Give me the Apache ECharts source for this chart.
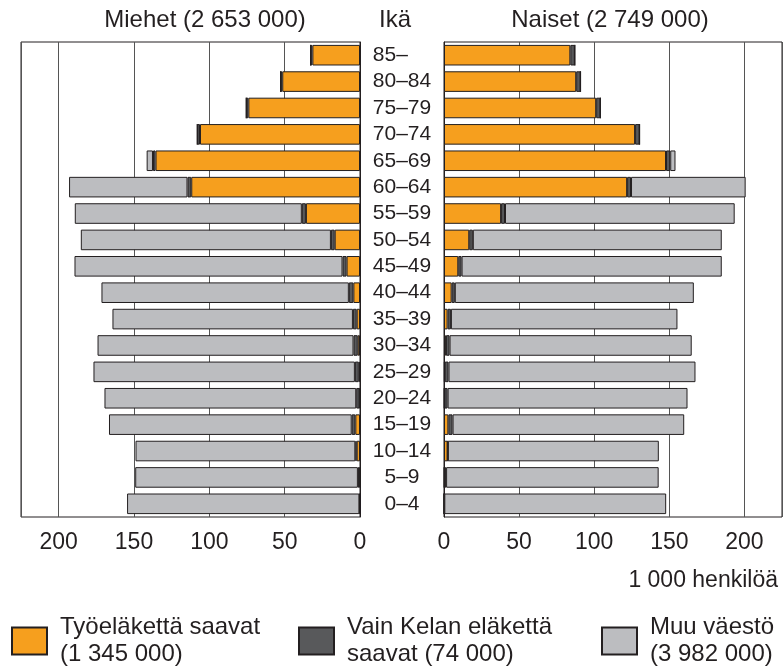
<!DOCTYPE html>
<html>
<head>
<meta charset="utf-8">
<script src="https://cdn.jsdelivr.net/npm/echarts@6/dist/echarts.min.js"></script>
<style>
  html, body { margin: 0; padding: 0; background: #fff; }
  #chart { width: 784px; height: 671px; }
</style>
</head>
<body>
<div id="chart"></div>
<script>
// ikäryhmät ylhäältä alas
const ages = ['85–', '80–84', '75–79', '70–74', '65–69', '60–64', '55–59', '50–54', '45–49',
  '40–44', '35–39', '30–34', '25–29', '20–24', '15–19', '10–14', '5–9', '0–4'];

// 1 000 henkilöä
const menPension = [31.6, 51.6, 74.1, 106.2, 135.7, 112.0, 35.9, 16.8, 8.9, 4.4, 2.2, 1.5, 0.8, 0.3, 3.1, 2.2, 0.3, 0];
const menKela = [1.2, 1.1, 1.4, 1.8, 1.7, 2.5, 2.7, 2.5, 2.7, 3.0, 2.5, 2.8, 2.6, 2.2, 2.4, 0.9, 1.1, 0.4];
const menOther = [0, 0, 0, 0, 4.2, 78.6, 150.7, 166.0, 177.9, 164.2, 159.6, 169.9, 173.5, 167.1, 161.1, 145.9, 147.8, 154.2];

const womenPension = [84.1, 88.0, 101.3, 127.2, 147.8, 121.9, 38.0, 16.8, 9.5, 5.1, 2.4, 1.3, 0.5, 0.3, 2.9, 2.4, 0.2, 0];
const womenKela = [3.0, 2.9, 2.8, 3.0, 2.8, 2.6, 2.6, 2.4, 2.2, 2.1, 2.2, 2.4, 2.5, 2.1, 2.8, 0.2, 1.2, 0.2];
const womenOther = [0, 0, 0, 0, 3.5, 76.3, 152.9, 165.7, 173.2, 159.1, 150.8, 161.2, 164.4, 159.7, 154.2, 140.4, 141.5, 147.7];

const groupNames = ['Työeläkettä saavat', 'Vain Kelan eläkettä saavat', 'Muu väestö'];
const legendLabels = ['Työeläkettä saavat\n(1 345 000)', 'Vain Kelan eläkettä\nsaavat (74 000)', 'Muu väestö\n(3 982 000)'];
const colors = ['#f69f1e', '#58595b', '#bcbdc0'];

const FONT = "'Liberation Sans', Arial, sans-serif";
const TXT = '#231f20';

const chart = echarts.init(document.getElementById('chart'));

const xAxisBase = {
  type: 'value',
  min: 0,
  max: 225,
  interval: 50,
  axisLine: { show: false },
  axisTick: { show: false },
  axisLabel: { color: TXT, fontSize: 23, fontFamily: FONT, margin: 14, showMaxLabel: false },
  splitLine: { show: true, lineStyle: { color: '#555', width: 1 } }
};

function makeSeries(idx, data, grid, stack) {
  return {
    name: groupNames[idx],
    type: 'bar',
    stack: stack,
    xAxisIndex: grid,
    yAxisIndex: grid,
    barCategoryGap: '22%',
    data: data,
    itemStyle: { color: colors[idx], borderColor: '#231f20', borderWidth: 1 },
    emphasis: { disabled: true }
  };
}

const legendLefts = [11, 298, 601];

chart.setOption({
  animation: false,
  textStyle: { fontFamily: FONT },
  grid: [
    { left: 21, right: 424, top: 42, bottom: 154, show: true, borderColor: '#231f20', borderWidth: 1 },
    { left: 444, right: 2, top: 42, bottom: 154, show: true, borderColor: '#231f20', borderWidth: 1 }
  ],
  xAxis: [
    Object.assign({}, xAxisBase, { gridIndex: 0, inverse: true }),
    Object.assign({}, xAxisBase, { gridIndex: 1 })
  ],
  yAxis: [
    {
      type: 'category', gridIndex: 0, data: ages, inverse: true, position: 'right',
      axisLine: { show: true, lineStyle: { color: '#231f20' } },
      axisTick: { show: false }, axisLabel: { show: false }
    },
    {
      type: 'category', gridIndex: 1, data: ages, inverse: true, position: 'left',
      axisLine: { show: true, lineStyle: { color: '#231f20' } },
      axisTick: { show: false },
      axisLabel: {
        interval: 0,
        color: TXT, fontSize: 21, fontFamily: FONT, align: 'center', margin: 42,
        formatter: v => v === '85–' ? v + '\u2007\u2007' : v
      }
    }
  ],
  legend: groupNames.map((n, i) => ({
    data: [n],
    left: legendLefts[i],
    top: 612,
    padding: 0,
    orient: 'horizontal',
    icon: 'rect',
    itemWidth: 35,
    itemHeight: 27,
    selectedMode: false,
    formatter: () => legendLabels[i],
    textStyle: { color: TXT, fontSize: 24, lineHeight: 27, fontFamily: FONT, padding: [4, 0, 0, 8] }
  })),
  graphic: [
    { type: 'text', x: 205, y: 20, style: { text: 'Miehet (2 653 000)', align: 'center', verticalAlign: 'middle', font: '24px ' + FONT, fill: TXT } },
    { type: 'text', x: 395, y: 20, style: { text: 'Ikä', align: 'center', verticalAlign: 'middle', font: '24px ' + FONT, fill: TXT } },
    { type: 'text', x: 610, y: 20, style: { text: 'Naiset (2 749 000)', align: 'center', verticalAlign: 'middle', font: '24px ' + FONT, fill: TXT } },
    { type: 'text', x: 778, y: 581, style: { text: '1 000 henkilöä', align: 'right', verticalAlign: 'middle', font: '23px ' + FONT, fill: TXT } }
  ],
  series: [
    makeSeries(0, menPension, 0, 'm'),
    makeSeries(1, menKela, 0, 'm'),
    makeSeries(2, menOther, 0, 'm'),
    makeSeries(0, womenPension, 1, 'w'),
    makeSeries(1, womenKela, 1, 'w'),
    makeSeries(2, womenOther, 1, 'w')
  ]
});
</script>
</body>
</html>
